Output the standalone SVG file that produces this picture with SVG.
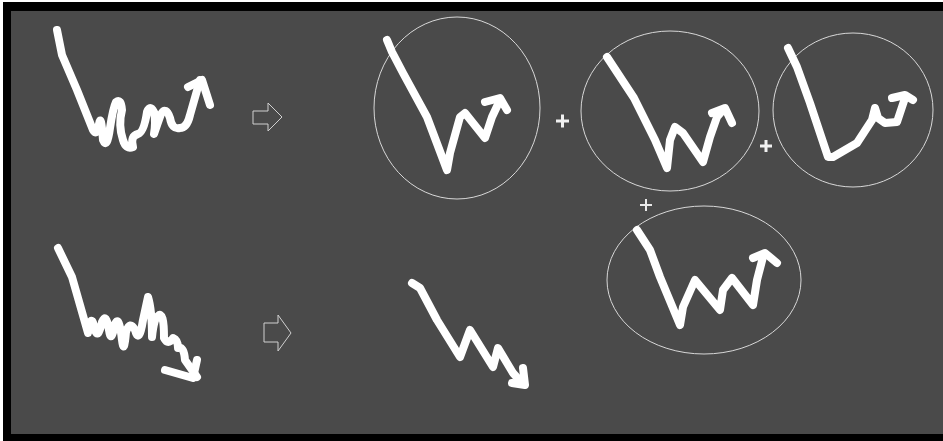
<svg xmlns="http://www.w3.org/2000/svg" width="943" height="441" viewBox="0 0 943 441">
<style>
.ink{fill:none;stroke:#ffffff;stroke-width:8;stroke-linecap:round;stroke-linejoin:round}
.ring{fill:none;stroke:#d8d8d8;stroke-width:1}
.harrow{fill:none;stroke:#d0d0d0;stroke-width:1}
.plus{stroke:#f0f0f0;stroke-width:3;stroke-linecap:butt}
.plus2{stroke:#e8e8e8;stroke-width:2}
</style>
<rect x="0" y="0" width="943" height="441" fill="#ffffff"/>
<rect x="3" y="2" width="940" height="439" fill="#000000"/>
<rect x="11" y="11" width="932" height="423" fill="#4a4a4a"/>

<g id="input-up">
<path class="ink" d="M57,30 L62,55 L77,90 L93,130 Q97,137 99,124 Q101,112 103,140 Q107,150 110,128 Q113,108 116,102 Q121,98 122,110 Q118,125 123,140 Q126,150 133,147 Q130,136 138,134 Q144,132 147,112 Q150,104 154,112 Q156,122 154,134 Q158,122 161,114 Q166,106 170,118 Q172,130 180,128 Q187,128 190,115 L200,80"/>
<polyline class="ink" points="188,87 202,80 210,105"/>
</g>
<g id="input-down">
<path class="ink" d="M58,248 L72,277 L88,333 Q91,310 95,330 Q98,340 102,322 Q106,312 109,330 Q111,345 115,324 Q119,314 122,340 Q124,356 126,332 Q130,320 135,330 Q139,345 143,320 L148,297 Q152,310 152,337 Q154,318 158,316 Q164,310 164,338 Q168,346 173,338 Q178,340 178,348 Q184,346 185,360 L197,377"/>
<polyline class="ink" points="165,370 193,378 197,360"/>
</g>

<g id="connectors">
<polygon class="harrow" points="253,111 268,111 268,103 282,117 268,131 268,124 253,124"/>
<polygon class="harrow" points="264,323 278,323 278,315 291,333 278,351 278,342 264,342"/>
</g>

<g id="part1">
<ellipse class="ring" cx="457" cy="108" rx="83" ry="91"/>
<polyline class="ink" points="387,40 392,52 403,73 427,117 447,170 450,153 460,117 465,113 485,138 492,117 500,100"/>
<polyline class="ink" points="485,102 500,98 507,110"/>
</g>
<g id="plus1"><path class="plus" d="M556,121 H569 M562.5,114.5 V127.5"/></g>
<g id="part2">
<ellipse class="ring" cx="670" cy="111" rx="89" ry="80"/>
<polyline class="ink" points="607,57 634,98 655,140 667,168 670,140 675,127 683,133 703,162 710,137 717,117 723,110"/>
<polyline class="ink" points="712,113 725,108 732,123"/>
</g>
<g id="plus2"><path class="plus" d="M760,146 H772 M766,140 V152"/></g>
<g id="part3">
<ellipse class="ring" cx="853" cy="110" rx="80" ry="77"/>
<polyline class="ink" points="788,48 797,67 810,103 828,157 833,157 857,143 872,120 875,108 878,118 885,123 897,122 902,107 905,98"/>
<polyline class="ink" points="892,98 905,95 913,100"/>
</g>
<g id="plus3"><path class="plus2" d="M640,205 H652 M646,199 V211"/></g>
<g id="part4">
<ellipse class="ring" cx="704" cy="280" rx="97" ry="74"/>
<polyline class="ink" points="637,230 650,250 660,277 680,325 683,307 695,280 720,310 723,290 732,278 753,305 757,280 763,257"/>
<polyline class="ink" points="753,258 765,253 777,263"/>
</g>

<g id="output-down">
<polyline class="ink" points="412,283 420,288 437,320 460,357 470,330 493,367 498,348 513,373 522,383"/>
<polyline class="ink" points="512,383 525,385 523,368"/>
</g>
</svg>
